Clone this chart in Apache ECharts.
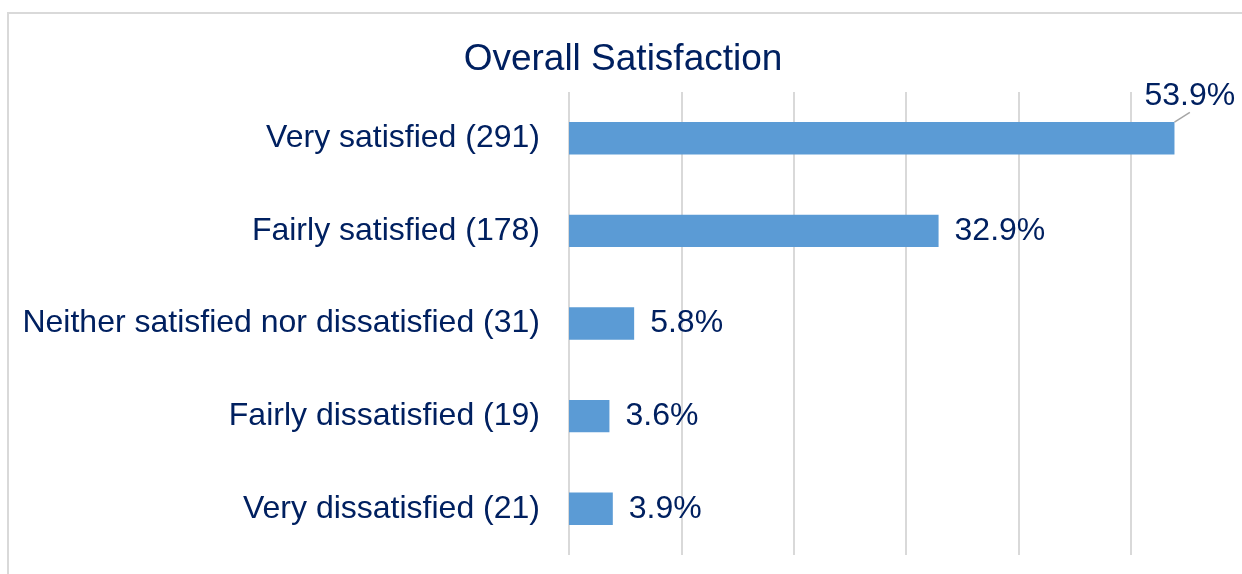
<!DOCTYPE html>
<html>
<head>
<meta charset="utf-8">
<script src="https://cdn.jsdelivr.net/npm/echarts@6/dist/echarts.min.js"></script>
<style>html,body{margin:0;padding:0;background:#fff;}#chart{width:1242px;height:574px;}</style>
</head>
<body>
<div id="chart"></div>
<script>
const categories = ["Very satisfied (291)", "Fairly satisfied (178)", "Neither satisfied nor dissatisfied (31)", "Fairly dissatisfied (19)", "Very dissatisfied (21)"];
const values = [53.9, 32.9, 5.8, 3.6, 3.9];
const xTicks = [0, 10, 20, 30, 40, 50, 60];

const FONT = "'Liberation Sans', Arial, sans-serif";
const TEXT = "#002060";
const chart = echarts.init(document.getElementById('chart'));
const seriesData = values.map((v, i) => i === 0
  ? { value: v, labelLine: { show: true } }
  : { value: v });
chart.setOption({
  animation: false,
  graphic: [{
    type: 'rect', silent: true,
    shape: { x: 8, y: 13, width: 1400, height: 800 },
    style: { fill: 'none', stroke: '#d9d9d9', lineWidth: 2 }
  }],
  title: {
    text: 'Overall Satisfaction', left: 618, textAlign: 'center', top: 36,
    textStyle: { color: TEXT, fontFamily: FONT, fontSize: 37, fontWeight: 'normal' }
  },
  grid: { left: 569, width: 674, top: 92, bottom: 19, containLabel: false, outerBoundsMode: 'none' },
  xAxis: {
    type: 'value', min: xTicks[0], max: xTicks[xTicks.length - 1], interval: 10,
    axisLabel: { show: false }, axisLine: { show: false }, axisTick: { show: false },
    splitLine: { show: true, lineStyle: { color: '#d9d9d9', width: 2 } }
  },
  yAxis: {
    type: 'category', data: categories, inverse: true,
    axisLine: { show: false }, axisTick: { show: false },
    axisLabel: { color: TEXT, fontFamily: FONT, fontSize: 32, margin: 29 }
  },
  series: [{
    type: 'bar', data: seriesData, barWidth: '35%',
    itemStyle: { color: '#5b9bd5' },
    label: {
      show: true, position: 'right', distance: 16,
      formatter: p => p.value.toFixed(1) + '%',
      color: TEXT, fontFamily: FONT, fontSize: 32
    },
    labelLine: { show: false, lineStyle: { color: '#a6a6a6', width: 1.5 } },
    labelLayout: function (params) {
      if (params.dataIndex === 0) return { dx: -46, dy: -42 };
      return {};
    }
  }]
});
</script>
</body>
</html>
